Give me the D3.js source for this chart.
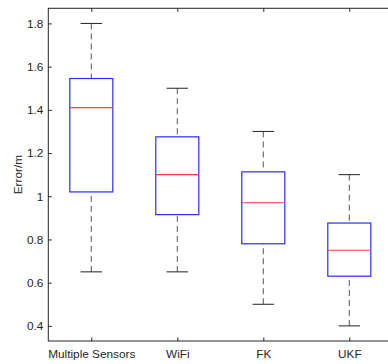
<!DOCTYPE html>
<html>
<head>
<meta charset="utf-8">
<script src="https://cdn.jsdelivr.net/npm/d3@7"></script>
<style>
  html, body { margin: 0; padding: 0; background: #fff; }
  svg { display: block; }
  text { font-family: "Liberation Sans", Arial, Helvetica, sans-serif; }
</style>
</head>
<body>
<svg id="chart" width="388" height="364"></svg>
<script>
// Box-plot statistics per method
const categories = ["Multiple Sensors", "WiFi", "FK", "UKF"];
const lowerWhisker = [0.65, 0.65, 0.50, 0.40];
const q1Values     = [1.02, 0.915, 0.78, 0.63];
const medianValues = [1.41, 1.10, 0.97, 0.75];
const q3Values     = [1.545, 1.275, 1.113, 0.876];
const upperWhisker = [1.80, 1.50, 1.30, 1.10];
const yTicks = [0.4, 0.6, 0.8, 1.0, 1.2, 1.4, 1.6, 1.8];
const yLabel = "Error/m";

const svg = d3.select("#chart");
const plotLeft = 48.3, plotRight = 392.3, plotTop = 8.3, plotBottom = 341;
const ink = "#262626";
const fontSize = 11.8;

const x = d3.scaleLinear().domain([0.5, categories.length + 0.5]).range([plotLeft, plotRight]);
const y = d3.scaleLinear().domain([0.33, 1.87]).range([plotBottom, plotTop]);

const boxHalf = 0.25, capHalf = 0.125;

const rows = categories.map((c, i) => ({
  name: c, pos: i + 1,
  lo: lowerWhisker[i], q1: q1Values[i], med: medianValues[i], q3: q3Values[i], hi: upperWhisker[i]
}));

// Frame
svg.append("rect")
  .attr("x", plotLeft).attr("y", plotTop)
  .attr("width", plotRight - plotLeft).attr("height", plotBottom - plotTop)
  .attr("fill", "none").attr("stroke", ink).attr("stroke-width", 1);

// Axes with inward ticks
const yAxis = d3.axisLeft(y).tickValues(yTicks)
  .tickFormat(d => d === 1 ? "1" : d3.format(".1f")(d))
  .tickSizeInner(-3.5).tickSizeOuter(0).tickPadding(5);
const gy = svg.append("g").attr("transform", `translate(${plotLeft},0)`).call(yAxis);
gy.select(".domain").remove();
gy.selectAll("line").attr("stroke", ink);
gy.selectAll("text").attr("fill", ink).attr("font-size", fontSize);

const xAxis = d3.axisBottom(x).tickValues(rows.map(r => r.pos))
  .tickFormat((d, i) => categories[i])
  .tickSizeInner(-3.5).tickSizeOuter(0).tickPadding(9);
const gx = svg.append("g").attr("transform", `translate(0,${plotBottom})`).call(xAxis);
gx.select(".domain").remove();
gx.selectAll("line").attr("stroke", ink);
gx.selectAll("text").attr("fill", ink).attr("font-size", fontSize);

// Top ticks
const xTop = d3.axisTop(x).tickValues(rows.map(r => r.pos)).tickFormat("")
  .tickSizeInner(-3.5).tickSizeOuter(0);
const gt = svg.append("g").attr("transform", `translate(0,${plotTop})`).call(xTop);
gt.select(".domain").remove();
gt.selectAll("line").attr("stroke", ink);

// Y label
svg.append("text")
  .attr("transform", `translate(22,${(plotTop + plotBottom) / 2}) rotate(-90)`)
  .attr("text-anchor", "middle")
  .attr("font-size", fontSize).attr("fill", ink)
  .text(yLabel);

const boxes = svg.append("g").selectAll("g").data(rows).join("g");

// Dashed whiskers
boxes.append("line")
  .attr("x1", d => x(d.pos)).attr("x2", d => x(d.pos))
  .attr("y1", d => y(d.hi)).attr("y2", d => y(d.q3))
  .attr("stroke", "#555").attr("stroke-width", 1).attr("stroke-dasharray", "6,4");
boxes.append("line")
  .attr("x1", d => x(d.pos)).attr("x2", d => x(d.pos))
  .attr("y1", d => y(d.lo)).attr("y2", d => y(d.q1))
  .attr("stroke", "#555").attr("stroke-width", 1).attr("stroke-dasharray", "6,4");

// Whisker caps
["hi", "lo"].forEach(k => {
  boxes.append("line")
    .attr("x1", d => x(d.pos - capHalf)).attr("x2", d => x(d.pos + capHalf))
    .attr("y1", d => y(d[k])).attr("y2", d => y(d[k]))
    .attr("stroke", "#222").attr("stroke-width", 1);
});

// Boxes
boxes.append("rect")
  .attr("x", d => x(d.pos - boxHalf))
  .attr("width", d => x(d.pos + boxHalf) - x(d.pos - boxHalf))
  .attr("y", d => y(d.q3))
  .attr("height", d => y(d.q1) - y(d.q3))
  .attr("fill", "none").attr("stroke", "#2b2bff").attr("stroke-width", 1.2);

// Medians
boxes.append("line")
  .attr("x1", d => x(d.pos - boxHalf)).attr("x2", d => x(d.pos + boxHalf))
  .attr("y1", d => y(d.med)).attr("y2", d => y(d.med))
  .attr("stroke", "#ff3b3b").attr("stroke-width", 1.2);
</script>
</body>
</html>
